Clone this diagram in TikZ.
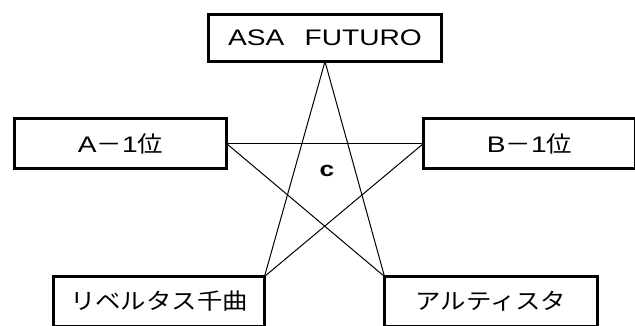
\documentclass[tikz,border=0pt]{standalone}
\usepackage{fontspec}
\setmainfont{Liberation Sans}[FakeStretch=1.25]
\newfontfamily\jp{Noto Sans CJK JP}[FakeStretch=1.13]
\begin{document}
\begin{tikzpicture}[x=1pt,y=-1pt,
  box/.style={draw, line width=3pt, outer sep=0pt, inner sep=0pt, fill=white,
    font=\fontsize{22.5}{26}\selectfont},
  starline/.style={line width=1pt, black}]
\useasboundingbox (0,0) rectangle (635,325);
\node[box, minimum width=233pt, minimum height=47pt] (top) at (325,38) {ASA\hspace{0.9em}FUTURO};
\node[box, minimum width=212pt, minimum height=50pt] (A) at (120.5,143.5) {A{\jp －}1{\jp 位}};
\node[box, minimum width=212pt, minimum height=50pt] (B) at (529.5,143.5) {B{\jp －}1{\jp 位}};
\node[box, minimum width=211pt, minimum height=50pt] (L) at (159,301.5) {\jp リベルタス千曲};
\node[box, minimum width=213pt, minimum height=50pt] (R) at (491,301.5) {\jp アルティスタ};
\draw[starline] (top.south) -- (L.north east);
\draw[starline] (top.south) -- (R.north west);
\draw[starline] (A.east) -- (B.west);
\draw[starline] (A.east) -- (R.north west);
\draw[starline] (B.west) -- (L.north east);
\node[font=\fontsize{21}{24}\selectfont\bfseries] (c) at (327,171) {c};
\end{tikzpicture}
\end{document}
